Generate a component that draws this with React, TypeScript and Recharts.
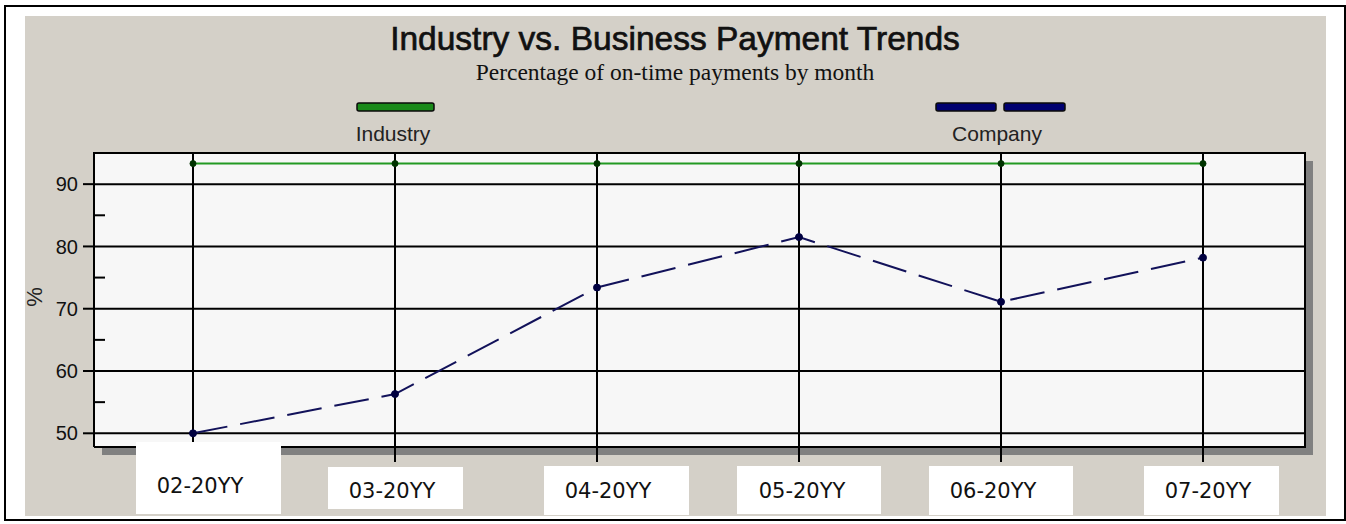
import React from 'react';
import { LineChart, Line, XAxis, YAxis, CartesianGrid } from 'recharts';

// ---- data ----
const months = ['02-20YY', '03-20YY', '04-20YY', '05-20YY', '06-20YY', '07-20YY'];
const industryValues = [93.3, 93.3, 93.3, 93.3, 93.3, 93.3];
const companyValues = [50.0, 56.3, 73.4, 81.5, 71.1, 78.2];
const yMajorTicks = [50, 60, 70, 80, 90];
const yAllTicks = [50, 55, 60, 65, 70, 75, 80, 85, 90];
const yDomain: [number, number] = [47.8, 95];

const data = months.map((m, i) => ({ month: m, industry: industryValues[i], company: companyValues[i] }));

// ---- layout ----
const W = 1346;
const H = 524;
const PL = 94; // plot left
const PT = 153; // plot top
const PR = 1305; // plot right
const PB = 447; // plot bottom
const PW = PR - PL;
const PH = PB - PT;

// white masks over the month labels (relative to tick position)
const labelMasks = [
  { dx: -57, w: 145, top: 442, bottom: 514, textDx: 7, baseline: 493 },
  { dx: -67, w: 135, top: 467, bottom: 509, textDx: -3, baseline: 498 },
  { dx: -53, w: 145, top: 466, bottom: 515, textDx: 11, baseline: 498 },
  { dx: -62, w: 144, top: 466, bottom: 514, textDx: 3, baseline: 498 },
  { dx: -72, w: 144, top: 466, bottom: 515, textDx: -8, baseline: 498 },
  { dx: -59, w: 135, top: 466, bottom: 515, textDx: 5, baseline: 498 },
];

const YTick = (props: any) => {
  const { y, payload } = props;
  const v = payload.value;
  const major = v % 10 === 0;
  return (
    <g>
      {major ? (
        <line x1={PL - 11} x2={PL} y1={y} y2={y} stroke="#000" strokeWidth={2} />
      ) : (
        <line x1={PL} x2={PL + 11} y1={y} y2={y} stroke="#000" strokeWidth={2} />
      )}
      {major && (
        <text x={PL - 16} y={y} dy="0.36em" textAnchor="end" fontSize={20} fill="#111" fontFamily="Liberation Sans">
          {v}
        </text>
      )}
    </g>
  );
};

const XTick = (props: any) => {
  const { x, payload } = props;
  const idx = months.indexOf(payload.value);
  const m = labelMasks[idx] || labelMasks[1];
  return (
    <g>
      <rect x={x + m.dx} y={m.top} width={m.w} height={m.bottom - m.top} fill="#fff" />
      <text x={x + m.textDx} y={m.baseline} textAnchor="middle" fontSize={21} fill="#111" fontFamily="DejaVu Sans">
        {payload.value}
      </text>
    </g>
  );
};

export default function App() {
  return (
    <div style={{ position: 'absolute', left: 0, top: 0, width: W, height: H, background: '#fff' }}>
      <svg width={W} height={H} style={{ position: 'absolute', left: 0, top: 0 }}>
        <rect x={5} y={6} width={1340} height={514} fill="#fff" stroke="#000" strokeWidth={2} />
        <rect x={25} y={16} width={1301} height={500} fill="#d4d0c8" />
        <rect x={PL + 8} y={PT + 8} width={PW} height={PH} fill="#808080" />
        <text
          x={675}
          y={50}
          textAnchor="middle"
          fontSize={33.5}
          fontFamily="Liberation Sans"
          fill="#111"
          stroke="#111"
          strokeWidth={0.7}
        >
          Industry vs. Business Payment Trends
        </text>
        <text x={675} y={80} textAnchor="middle" fontSize={23.5} fontFamily="Liberation Serif" fill="#111">
          Percentage of on-time payments by month
        </text>
        {/* legend */}
        <rect x={357} y={103} width={77} height={8} rx={2} fill="#1a8a1a" stroke="#0a0a0a" strokeWidth={1.5} />
        <text x={393} y={141} textAnchor="middle" fontSize={21} fontFamily="Liberation Sans" fill="#222">
          Industry
        </text>
        <rect x={936} y={103} width={60} height={8} rx={2} fill="#000070" stroke="#0a0a0a" strokeWidth={1.5} />
        <rect x={1004} y={103} width={61} height={8} rx={2} fill="#000070" stroke="#0a0a0a" strokeWidth={1.5} />
        <text x={997} y={141} textAnchor="middle" fontSize={21} fontFamily="Liberation Sans" fill="#222">
          Company
        </text>
        <text
          x={34}
          y={297}
          textAnchor="middle"
          fontSize={22}
          fontFamily="Liberation Sans"
          fill="#222"
          dy="0.36em"
          transform="rotate(-90 34 297)"
        >
          %
        </text>
      </svg>
      <div style={{ position: 'absolute', left: 0, top: 0 }}>
        <LineChart
          width={W}
          height={H}
          data={data}
          margin={{ top: PT, right: W - PR, bottom: 17, left: 34 }}
        >
          <CartesianGrid
            fill="#f7f7f7"
            fillOpacity={1}
            stroke="#000"
            strokeWidth={2}
            horizontalValues={yMajorTicks}
          />
          <XAxis
            dataKey="month"
            height={60}
            padding={{ left: 99, right: 102 }}
            axisLine={{ stroke: '#000', strokeWidth: 2 }}
            tickLine={{ stroke: '#000', strokeWidth: 2 }}
            tickSize={15}
            interval={0}
            tick={<XTick />}
          />
          <YAxis
            domain={yDomain}
            ticks={yAllTicks}
            interval={0}
            allowDataOverflow
            width={60}
            axisLine={{ stroke: '#000', strokeWidth: 2 }}
            tickLine={false}
            tick={<YTick />}
          />
          <Line
            dataKey="industry"
            stroke="#229a22"
            strokeWidth={2}
            dot={{ r: 3, fill: '#003300', stroke: '#003300', strokeWidth: 1 }}
            isAnimationActive={false}
          />
          <Line
            dataKey="company"
            stroke="#12125a"
            strokeWidth={2}
            strokeDasharray="35 13"
            dot={{ r: 3.5, fill: '#000040', stroke: '#000040', strokeWidth: 1, strokeDasharray: '' }}
            isAnimationActive={false}
          />
        </LineChart>
      </div>
      <svg width={W} height={H} style={{ position: 'absolute', left: 0, top: 0, pointerEvents: 'none' }}>
        <line x1={PL - 1} x2={PR + 1} y1={PT} y2={PT} stroke="#000" strokeWidth={2} />
        <line x1={PR} x2={PR} y1={PT - 1} y2={PB + 1} stroke="#000" strokeWidth={2} />
      </svg>
    </div>
  );
}
